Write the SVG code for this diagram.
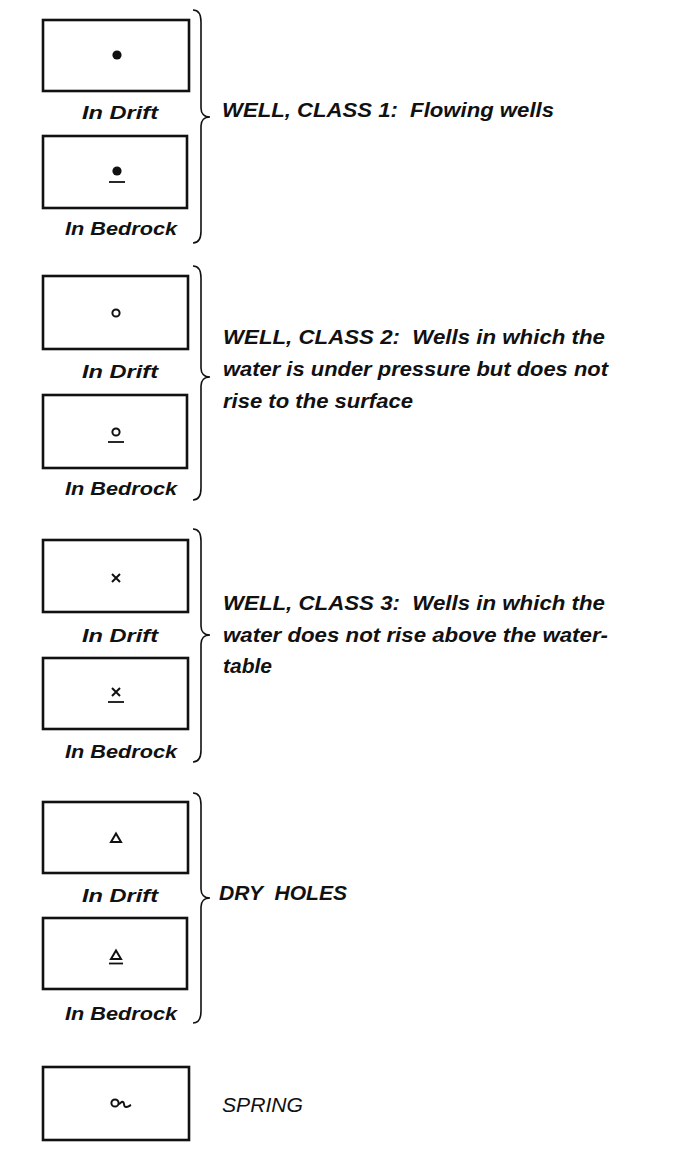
<svg xmlns="http://www.w3.org/2000/svg" width="677" height="1150" viewBox="0 0 677 1150">
<style>
.box{fill:#fff;stroke:#111;stroke-width:2.6}
.br{fill:none;stroke:#111;stroke-width:1.6}
.sub{font-family:"Liberation Sans",Arial,sans-serif;font-weight:bold;font-style:italic;font-size:19px;fill:#111}
.lab{font-family:"Liberation Sans",Arial,sans-serif;font-weight:bold;font-style:italic;font-size:21px;fill:#111;white-space:pre}
.reg{font-family:"Liberation Sans",Arial,sans-serif;font-style:italic;font-size:21px;fill:#111}
.sym{fill:none;stroke:#111;stroke-width:2}
.ul{stroke:#111;stroke-width:1.8}
</style>
<rect width="677" height="1150" fill="#fff"/>
<g id="braces">
<path class="br" d="M193,10 C198,10 201,14 201,22 L201,108 C201,113 204,117 210,117 C204,117 201,121 201,126 L201,231 C201,239 198,243 193,243"/>
<path class="br" d="M193,266 C198,266 201,270 201,278 L201,368 C201,373 204,377 210,377 C204,377 201,381 201,386 L201,488 C201,496 198,500 193,500"/>
<path class="br" d="M193,529 C198,529 201,533 201,541 L201,626 C201,631 204,635 210,635 C204,635 201,639 201,644 L201,750 C201,758 198,762 193,762"/>
<path class="br" d="M193,793 C198,793 201,797 201,805 L201,889 C201,894 204,898 210,898 C204,898 201,902 201,907 L201,1011 C201,1019 198,1023 193,1023"/>
</g>
<g id="class1">
<rect class="box" x="43" y="20" width="146" height="71"/>
<circle cx="117" cy="55" r="4.6" fill="#111"/>
<text class="sub" x="82" y="119" textLength="76" lengthAdjust="spacingAndGlyphs">In Drift</text>
<rect class="box" x="43" y="136" width="144" height="72"/>
<circle cx="117" cy="171" r="4.6" fill="#111"/>
<line class="ul" x1="109" y1="182" x2="125" y2="182"/>
<text class="sub" x="65" y="235" textLength="112" lengthAdjust="spacingAndGlyphs">In Bedrock</text>
<text class="lab" x="222" y="117" textLength="332" lengthAdjust="spacingAndGlyphs">WELL, CLASS 1:  Flowing wells</text>
</g>
<g id="class2">
<rect class="box" x="43" y="276" width="145" height="73"/>
<circle class="sym" cx="116" cy="313" r="3.6"/>
<text class="sub" x="82" y="378" textLength="76" lengthAdjust="spacingAndGlyphs">In Drift</text>
<rect class="box" x="43" y="395" width="144" height="73"/>
<circle class="sym" cx="116" cy="432" r="3.6"/>
<line class="ul" x1="108" y1="442" x2="124" y2="442"/>
<text class="sub" x="65" y="495" textLength="112" lengthAdjust="spacingAndGlyphs">In Bedrock</text>
<text class="lab" x="223" y="344" textLength="382" lengthAdjust="spacingAndGlyphs">WELL, CLASS 2:  Wells in which the</text>
<text class="lab" x="223" y="376" textLength="385" lengthAdjust="spacingAndGlyphs">water is under pressure but does not</text>
<text class="lab" x="223" y="408" textLength="190" lengthAdjust="spacingAndGlyphs">rise to the surface</text>
</g>
<g id="class3">
<rect class="box" x="43" y="540" width="145" height="72"/>
<path class="sym" d="M112,574 L120,582 M120,574 L112,582"/>
<text class="sub" x="82" y="642" textLength="76" lengthAdjust="spacingAndGlyphs">In Drift</text>
<rect class="box" x="43" y="658" width="145" height="71"/>
<path class="sym" d="M112,688 L120,696 M120,688 L112,696"/>
<line class="ul" x1="108" y1="702" x2="124" y2="702"/>
<text class="sub" x="65" y="758" textLength="112" lengthAdjust="spacingAndGlyphs">In Bedrock</text>
<text class="lab" x="223" y="610" textLength="382" lengthAdjust="spacingAndGlyphs">WELL, CLASS 3:  Wells in which the</text>
<text class="lab" x="223" y="642" textLength="385" lengthAdjust="spacingAndGlyphs">water does not rise above the water-</text>
<text class="lab" x="223" y="673" textLength="49" lengthAdjust="spacingAndGlyphs">table</text>
</g>
<g id="dryholes">
<rect class="box" x="43" y="802" width="145" height="71"/>
<path class="sym" d="M116,833.5 L121,842 L111,842 Z"/>
<text class="sub" x="82" y="902" textLength="76" lengthAdjust="spacingAndGlyphs">In Drift</text>
<rect class="box" x="43" y="918" width="144" height="71"/>
<path class="sym" d="M116,950.5 L121,959 L111,959 Z"/>
<line class="ul" x1="109" y1="963.5" x2="123" y2="963.5"/>
<text class="sub" x="65" y="1020" textLength="112" lengthAdjust="spacingAndGlyphs">In Bedrock</text>
<text class="lab" x="219" y="900" textLength="128" lengthAdjust="spacingAndGlyphs">DRY  HOLES</text>
</g>
<g id="spring">
<rect class="box" x="43" y="1067" width="146" height="73"/>
<circle class="sym" cx="115" cy="1103" r="3.6"/>
<path class="sym" stroke-width="1.5" d="M118.6,1104 C121,1104 121,1101 123,1102 C125,1103 123,1107 126,1107 C128,1107 129,1106 131,1105"/>
<text class="reg" x="222" y="1112" textLength="81" lengthAdjust="spacingAndGlyphs">SPRING</text>
</g>
</svg>
